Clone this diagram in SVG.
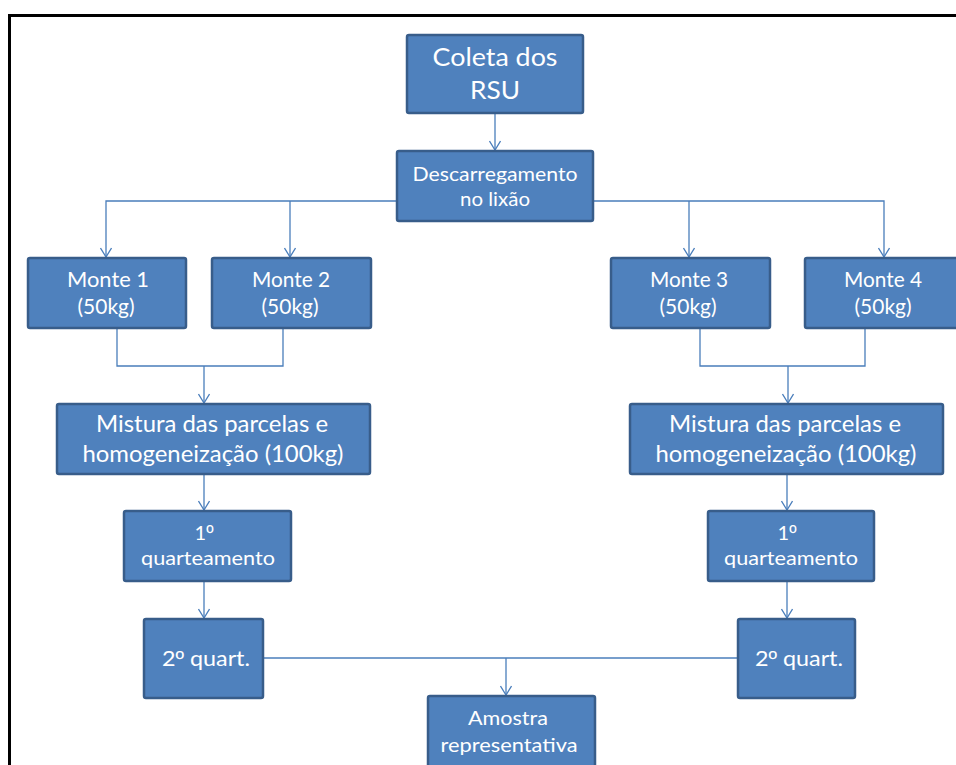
<svg xmlns="http://www.w3.org/2000/svg" width="956" height="765" viewBox="0 0 956 765">
<defs>
<style>
.box{fill:#4F81BD;stroke:#385D8A;stroke-width:2.5}
.t{font-family:Lato,"Liberation Sans",sans-serif;fill:#ffffff;text-anchor:middle}
.o{font-family:"Liberation Sans","DejaVu Sans",sans-serif}
.c{fill:none;stroke:#4A7EBB;stroke-width:1.3}
</style>
<marker id="ah" viewBox="0 0 12 12" refX="10" refY="6" markerWidth="12" markerHeight="12" markerUnits="userSpaceOnUse" orient="auto">
<path d="M1,0.5 L10,6 L1,11.5" fill="none" stroke="#4A7EBB" stroke-width="1.3"/>
</marker>
</defs>
<rect width="956" height="765" fill="#ffffff"/>
<rect x="9.5" y="15.5" width="1000" height="800" fill="none" stroke="#000000" stroke-width="3"/>

<g id="connectors">
<line class="c" x1="495" y1="113" x2="495" y2="150" marker-end="url(#ah)"/>
<polyline class="c" points="397,201 106,201 106,257" marker-end="url(#ah)"/>
<line class="c" x1="290" y1="201" x2="290" y2="257" marker-end="url(#ah)"/>
<polyline class="c" points="593,201 884,201 884,257" marker-end="url(#ah)"/>
<line class="c" x1="689" y1="201" x2="689" y2="257" marker-end="url(#ah)"/>
<polyline class="c" points="117,328 117,366 283,366 283,328"/>
<line class="c" x1="204" y1="366" x2="204" y2="403" marker-end="url(#ah)"/>
<polyline class="c" points="700,328 700,366 865,366 865,328"/>
<line class="c" x1="788" y1="366" x2="788" y2="403" marker-end="url(#ah)"/>
<line class="c" x1="204" y1="474" x2="204" y2="510" marker-end="url(#ah)"/>
<line class="c" x1="787" y1="474" x2="787" y2="510" marker-end="url(#ah)"/>
<line class="c" x1="204" y1="581" x2="204" y2="618" marker-end="url(#ah)"/>
<line class="c" x1="787" y1="581" x2="787" y2="618" marker-end="url(#ah)"/>
<line class="c" x1="263" y1="658" x2="738" y2="658"/>
<line class="c" x1="506" y1="658" x2="506" y2="695" marker-end="url(#ah)"/>
</g>

<g id="coleta">
<rect class="box" x="407" y="35" width="176" height="78" rx="2"/>
<text class="t" x="495" y="66" font-size="25" textLength="125" lengthAdjust="spacingAndGlyphs">Coleta dos</text>
<text class="t" x="495" y="99" font-size="25" textLength="50" lengthAdjust="spacingAndGlyphs">RSU</text>
</g>

<g id="descarregamento">
<rect class="box" x="397" y="151" width="196" height="70" rx="2"/>
<text class="t" x="495" y="181" font-size="20" textLength="165" lengthAdjust="spacingAndGlyphs">Descarregamento</text>
<text class="t" x="495" y="206" font-size="20" textLength="70" lengthAdjust="spacingAndGlyphs">no lixão</text>
</g>

<g id="monte1">
<rect class="box" x="28" y="258" width="158" height="70" rx="2"/>
<text class="t" x="108" y="287" font-size="21" textLength="82" lengthAdjust="spacingAndGlyphs">Monte 1</text>
<text class="t" x="106" y="314" font-size="21" textLength="57" lengthAdjust="spacingAndGlyphs">(50kg)</text>
</g>

<g id="monte2">
<rect class="box" x="212" y="258" width="159" height="70" rx="2"/>
<text class="t" x="291" y="287" font-size="21" textLength="78" lengthAdjust="spacingAndGlyphs">Monte 2</text>
<text class="t" x="290" y="314" font-size="21" textLength="57" lengthAdjust="spacingAndGlyphs">(50kg)</text>
</g>

<g id="monte3">
<rect class="box" x="611" y="258" width="159" height="70" rx="2"/>
<text class="t" x="689" y="287" font-size="21" textLength="78" lengthAdjust="spacingAndGlyphs">Monte 3</text>
<text class="t" x="688" y="314" font-size="21" textLength="57" lengthAdjust="spacingAndGlyphs">(50kg)</text>
</g>

<g id="monte4">
<rect class="box" x="805" y="258" width="158" height="70" rx="2"/>
<text class="t" x="883" y="287" font-size="21" textLength="78" lengthAdjust="spacingAndGlyphs">Monte 4</text>
<text class="t" x="883" y="314" font-size="21" textLength="57" lengthAdjust="spacingAndGlyphs">(50kg)</text>
</g>

<g id="mistura-esq">
<rect class="box" x="57" y="404" width="313" height="70" rx="2"/>
<text class="t" x="212" y="432" font-size="24" textLength="232" lengthAdjust="spacingAndGlyphs">Mistura das parcelas e</text>
<text class="t" x="213" y="462" font-size="24" textLength="261" lengthAdjust="spacingAndGlyphs">homogeneização (100kg)</text>
</g>

<g id="mistura-dir">
<rect class="box" x="630" y="404" width="313" height="70" rx="2"/>
<text class="t" x="785" y="432" font-size="24" textLength="232" lengthAdjust="spacingAndGlyphs">Mistura das parcelas e</text>
<text class="t" x="786" y="462" font-size="24" textLength="261" lengthAdjust="spacingAndGlyphs">homogeneização (100kg)</text>
</g>

<g id="quart1-esq">
<rect class="box" x="124" y="511" width="167" height="70" rx="2"/>
<text class="t" x="204" y="540" font-size="20">1<tspan class="o">º</tspan></text>
<text class="t" x="208" y="565" font-size="20" textLength="134" lengthAdjust="spacingAndGlyphs">quarteamento</text>
</g>

<g id="quart1-dir">
<rect class="box" x="708" y="511" width="166" height="70" rx="2"/>
<text class="t" x="787" y="540" font-size="20">1<tspan class="o">º</tspan></text>
<text class="t" x="791" y="565" font-size="20" textLength="134" lengthAdjust="spacingAndGlyphs">quarteamento</text>
</g>

<g id="quart2-esq">
<rect class="box" x="144" y="619" width="119" height="79" rx="2"/>
<text class="t" x="206" y="666" font-size="21" textLength="88" lengthAdjust="spacingAndGlyphs">2<tspan class="o">º</tspan> quart.</text>
</g>

<g id="quart2-dir">
<rect class="box" x="738" y="619" width="117" height="79" rx="2"/>
<text class="t" x="799" y="666" font-size="21" textLength="88" lengthAdjust="spacingAndGlyphs">2<tspan class="o">º</tspan> quart.</text>
</g>

<g id="amostra">
<rect class="box" x="428" y="696" width="167" height="85" rx="2"/>
<text class="t" x="508" y="725" font-size="20" textLength="80" lengthAdjust="spacingAndGlyphs">Amostra</text>
<text class="t" x="509" y="752" font-size="20" textLength="137" lengthAdjust="spacingAndGlyphs">representativa</text>
</g>
</svg>
